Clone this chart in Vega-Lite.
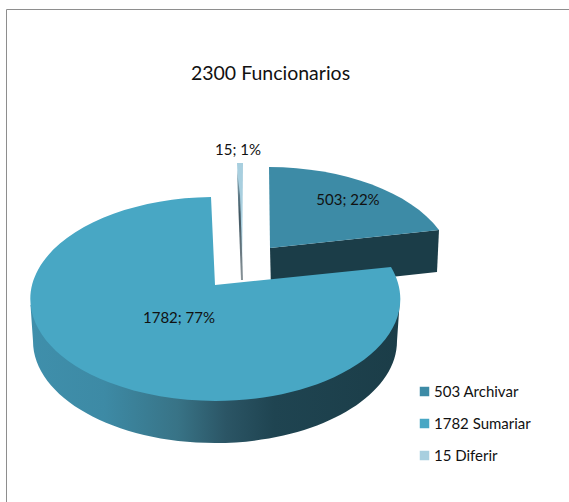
{"$schema":"https://vega.github.io/schema/vega-lite/v6.json","width":563,"height":493,"autosize":{"type":"none"},"padding":{"left":6,"top":9,"right":0,"bottom":0},"background":"white","config":{"view":{"stroke":"#8e8e8e","strokeWidth":1},"font":"Lato"},"title":{"text":"2300 Funcionarios","font":"Lato","fontSize":19.5,"fontWeight":"normal","color":"#111111","anchor":"middle","frame":"group","dx":-17,"offset":-75},"datasets":{"slices":[{"slice":"Archivar","value":503,"label":"503 Archivar","text":"503; 22%"},{"slice":"Sumariar","value":1782,"label":"1782 Sumariar","text":"1782; 77%"},{"slice":"Diferir","value":15,"label":"15 Diferir","text":"15; 1%"}]},"data":{"name":"slices"},"encoding":{"x":{"field":"value","type":"quantitative","axis":null,"scale":{"domain":[15,503,1782],"range":[236,264,209],"zero":false,"nice":false}},"y":{"field":"value","type":"quantitative","axis":null,"scale":{"domain":[15,503,1782],"range":[271,239,276],"zero":false,"nice":false}}},"layer":[{"transform":[{"filter":"datum.slice==='Archivar'"}],"mark":{"type":"point","filled":true,"opacity":1,"size":4,"strokeWidth":0,"shape":"M0 0L169 -18L167 24L1 42Z","fill":"#1b3d48"}},{"transform":[{"filter":"datum.slice==='Sumariar'"}],"mark":{"type":"point","filled":true,"opacity":1,"size":4,"strokeWidth":0,"shape":"M-184.5 20L184.5 20L182 56A182 102 0 0 1 -182 56Z","fill":{"gradient":"linear","x1":0,"y1":0,"x2":1,"y2":0,"stops":[{"offset":0,"color":"#3f8fab"},{"offset":0.2,"color":"#3d8aa5"},{"offset":0.4,"color":"#387386"},{"offset":0.53,"color":"#2b5565"},{"offset":0.66,"color":"#1f4451"},{"offset":1,"color":"#1b3d48"}]}}},{"mark":{"type":"point","filled":true,"opacity":1,"size":4,"strokeWidth":0},"encoding":{"shape":{"field":"slice","type":"nominal","legend":null,"scale":{"domain":["Archivar","Sumariar","Diferir"],"range":["M0 0L-1 -81A185 102 0 0 1 169 -18Z","M0 0L-4 -88A185 102 0 1 0 176 -18Z","M0 0L-5 -117L1 -117Z"]}},"color":{"field":"label","type":"nominal","sort":null,"scale":{"domain":["503 Archivar","1782 Sumariar","15 Diferir"],"range":["#3d8ba6","#48a7c4","#a8cfdf"]},"legend":{"orient":"none","legendX":411,"legendY":375,"title":null,"symbolType":"square","symbolSize":90,"symbolStrokeWidth":0,"labelFont":"Lato","labelFontSize":15,"labelColor":"#111111","labelOffset":2,"rowPadding":16,"padding":0}}}},{"transform":[{"filter":"datum.slice==='Diferir'"}],"mark":{"type":"point","filled":true,"opacity":1,"size":4,"strokeWidth":0,"shape":"M-5 -110L-2 -85L1 0L-1 0Z","fill":{"gradient":"linear","x1":0,"y1":0,"x2":0,"y2":1,"stops":[{"offset":0,"color":"#8fb3c2"},{"offset":0.4,"color":"#3f5560"},{"offset":1,"color":"#8a9499"}]}}},{"mark":{"type":"text","font":"Lato","fontSize":15,"color":"#111111","align":"center","baseline":"middle"},"encoding":{"text":{"field":"text","type":"nominal"},"x":{"field":"value","type":"quantitative","axis":null,"scale":{"domain":[15,503,1782],"range":[232,342,173],"zero":false,"nice":false}},"y":{"field":"value","type":"quantitative","axis":null,"scale":{"domain":[15,503,1782],"range":[141,191,309],"zero":false,"nice":false}}}}],"resolve":{"scale":{"x":"independent","y":"independent"}}}
